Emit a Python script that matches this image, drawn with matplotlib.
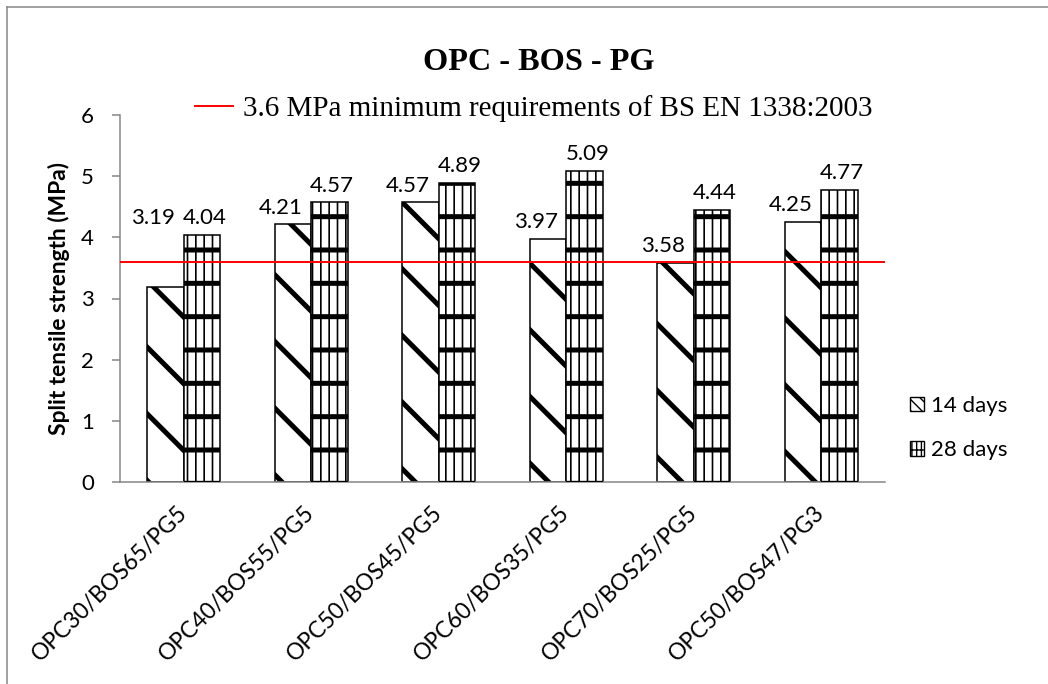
import matplotlib
matplotlib.use('Agg')
import matplotlib.pyplot as plt
from matplotlib.patches import Patch
from matplotlib.lines import Line2D
import numpy as np

# data
mixes = ['OPC30/BOS65/PG5', 'OPC40/BOS55/PG5', 'OPC50/BOS45/PG5',
         'OPC60/BOS35/PG5', 'OPC70/BOS25/PG5', 'OPC50/BOS47/PG3']
days14 = [3.19, 4.21, 4.57, 3.97, 3.58, 4.25]
days28 = [4.04, 4.57, 4.89, 5.09, 4.44, 4.77]
limit = 3.6
limit_label = '3.6 MPa minimum requirements of BS EN 1338:2003'

plt.rcParams['font.family'] = ['Lato', 'DejaVu Sans']
plt.rcParams['hatch.linewidth'] = 0.5

# high dpi / small figure so that the hatch tiles come out coarse like Excel's
DPI = 200
W, H = 1048, 684
fig = plt.figure(figsize=(W / DPI, H / DPI), dpi=DPI)
ax = fig.add_axes([120 / W, 1 - 482 / H, 765 / W, 367 / H])

def hatch_lw(patches, lw):
    for p in patches:
        if hasattr(p, 'set_hatch_linewidth'):
            p.set_hatch_linewidth(lw)

x = np.arange(len(mixes))
w = 0.286
b14 = ax.bar(x - w / 2, days14, w, facecolor='white', edgecolor='black',
             linewidth=0.55, hatch='\\', zorder=2)
b28 = ax.bar(x + w / 2, days28, w, facecolor='white', edgecolor='black',
             linewidth=0.55, hatch='||||', zorder=2)
b28h = ax.bar(x + w / 2, days28, w, facecolor='none', edgecolor='black',
              linewidth=0, hatch='-', zorder=3)
hatch_lw(b14, 1.8)
hatch_lw(b28, 0.6)
hatch_lw(b28h, 1.8)

ax.axhline(limit, color='red', lw=0.7, zorder=4)

# value labels
for i, v in enumerate(days14):
    ly = days28[i] if v < limit - 0.1 else v
    ax.annotate(f'{v:.2f}', (x[i] - w / 2, ly), xytext=(-4.5, 2.5),
                textcoords='offset points', ha='center', va='bottom', fontsize=8)
for i, v in enumerate(days28):
    ax.annotate(f'{v:.2f}', (x[i] + w / 2, v), xytext=(1, 2.5),
                textcoords='offset points', ha='center', va='bottom', fontsize=8)

ax.set_xlim(-0.5, len(mixes) - 0.5)
ax.set_ylim(0, 6)
ax.set_yticks(range(7))
ax.set_xticks(x, mixes, rotation=45, ha='right', va='center', rotation_mode='anchor')
ax.tick_params(axis='x', length=0, pad=10, labelsize=8.2)
ax.tick_params(axis='y', length=2.9, width=0.55, color='#868686', pad=6.5, labelsize=8)
for s in ['top', 'right']:
    ax.spines[s].set_visible(False)
for s in ['left', 'bottom']:
    ax.spines[s].set_color('#868686')
    ax.spines[s].set_linewidth(0.55)
ax.set_ylabel('Split tensile strength (MPa)', fontweight='bold', fontsize=8.2, labelpad=4)

fig.text(539 / W, 1 - 62 / H, 'OPC - BOS - PG', family='Liberation Serif',
         fontweight='bold', fontsize=11.6, ha='center', va='center')

fig.legend([Line2D([0], [0], color='red', lw=0.7)], [limit_label],
           loc='center left', bbox_to_anchor=(195 / W, 1 - 109 / H), frameon=False,
           prop={'family': 'Liberation Serif', 'size': 10.5}, handlelength=1.3,
           handletextpad=0.35, borderpad=0, borderaxespad=0)

p14 = Patch(facecolor='white', edgecolor='black', linewidth=0.5, hatch='\\\\\\\\\\\\')
p28 = Patch(facecolor='white', edgecolor='black', linewidth=0.5, hatch='|||||||-')
hatch_lw([p14, p28], 0.4)
fig.legend([p14, p28], ['14 days', '28 days'], loc='center left',
           bbox_to_anchor=(910 / W, 1 - 428 / H), frameon=False, fontsize=8,
           handlelength=0.65, handleheight=0.65, handletextpad=0.3,
           labelspacing=1.1, borderpad=0, borderaxespad=0)

# outer chart border
fig.add_artist(Line2D([7 / W, 7 / W], [0, 1 - 7 / H], transform=fig.transFigure,
                      color='#888888', lw=0.55))
fig.add_artist(Line2D([7 / W, 1], [1 - 7 / H, 1 - 7 / H], transform=fig.transFigure,
                      color='#888888', lw=0.55))

fig.savefig('out.png', dpi=DPI)
